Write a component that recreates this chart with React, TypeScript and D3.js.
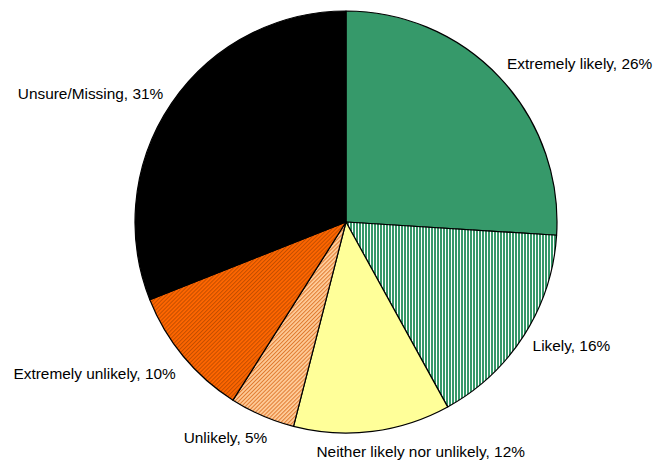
import React from "react";
import * as d3 from "d3";

const categories = [
  "Extremely likely",
  "Likely",
  "Neither likely nor unlikely",
  "Unlikely",
  "Extremely unlikely",
  "Unsure/Missing",
];
const values = [26, 16, 12, 5, 10, 31];

const fills = ["#36996a", "url(#patLikely)", "#ffff99", "url(#patUnlikely)", "url(#patExUnlikely)", "#000000"];
// label nudges (dx, dy) in px relative to the computed anchor
const labelNudge: [number, number][] = [
  [0, -2],
  [0, 0],
  [47, 5],
  [9, 7],
  [0, 5],
  [0, 1],
];

const W = 654;
const H = 460;
const cx = 346;
const cy = 222;
const R = 211;

export default function App() {
  const pie = d3
    .pie<number>()
    .sort(null)
    .value((d) => d)
    .startAngle(0)
    .endAngle(2 * Math.PI);
  const arcs = pie(values);
  const arc = d3.arc<d3.PieArcDatum<number>>().innerRadius(0).outerRadius(R);
  const total = d3.sum(values);

  return (
    <svg
      width={W}
      height={H}
      style={{ position: "absolute", left: 0, top: 0, background: "#fff" }}
      fontFamily="'Liberation Sans', Arial, sans-serif"
      fontSize={15.4}
    >
      <defs>
        <pattern id="patLikely" width="3" height="3" patternUnits="userSpaceOnUse">
          <rect width="3" height="3" fill="#36996a" />
          <rect x="0" width="1" height="3" fill="#ffffff" />
        </pattern>
        <pattern id="patExUnlikely" width="2.8" height="2.8" patternUnits="userSpaceOnUse" patternTransform="rotate(45)">
          <rect width="2.8" height="2.8" fill="#ff6600" />
          <rect x="0" width="1" height="2.8" fill="#c24e00" />
        </pattern>
        <pattern id="patUnlikely" width="2.8" height="2.8" patternUnits="userSpaceOnUse" patternTransform="rotate(45)">
          <rect width="2.8" height="2.8" fill="#ffcc99" />
          <rect x="0" width="1" height="2.8" fill="#e07a30" />
        </pattern>
      </defs>
      <g transform={`translate(${cx},${cy})`}>
        {arcs.map((a, i) => (
          <path key={i} d={arc(a) || ""} fill={fills[i]} stroke="#000" strokeWidth={1.2} strokeLinejoin="round" />
        ))}
        {arcs.map((a, i) => {
          const mid = (a.startAngle + a.endAngle) / 2;
          const rr = R + 10;
          const x = rr * Math.sin(mid);
          const y = -rr * Math.cos(mid);
          const right = Math.sin(mid) >= 0;
          const upper = Math.cos(mid) > 0;
          const anchor = Math.abs(Math.sin(mid)) < 0.2 ? "middle" : right ? "start" : "end";
          const baseline = upper ? y : y + 11;
          const pct = Math.round((values[i] / total) * 100);
          return (
            <text
              key={"l" + i}
              x={x + labelNudge[i][0]}
              y={baseline + labelNudge[i][1]}
              textAnchor={anchor}
              fill="#000"
            >
              {`${categories[i]}, ${pct}%`}
            </text>
          );
        })}
      </g>
    </svg>
  );
}
